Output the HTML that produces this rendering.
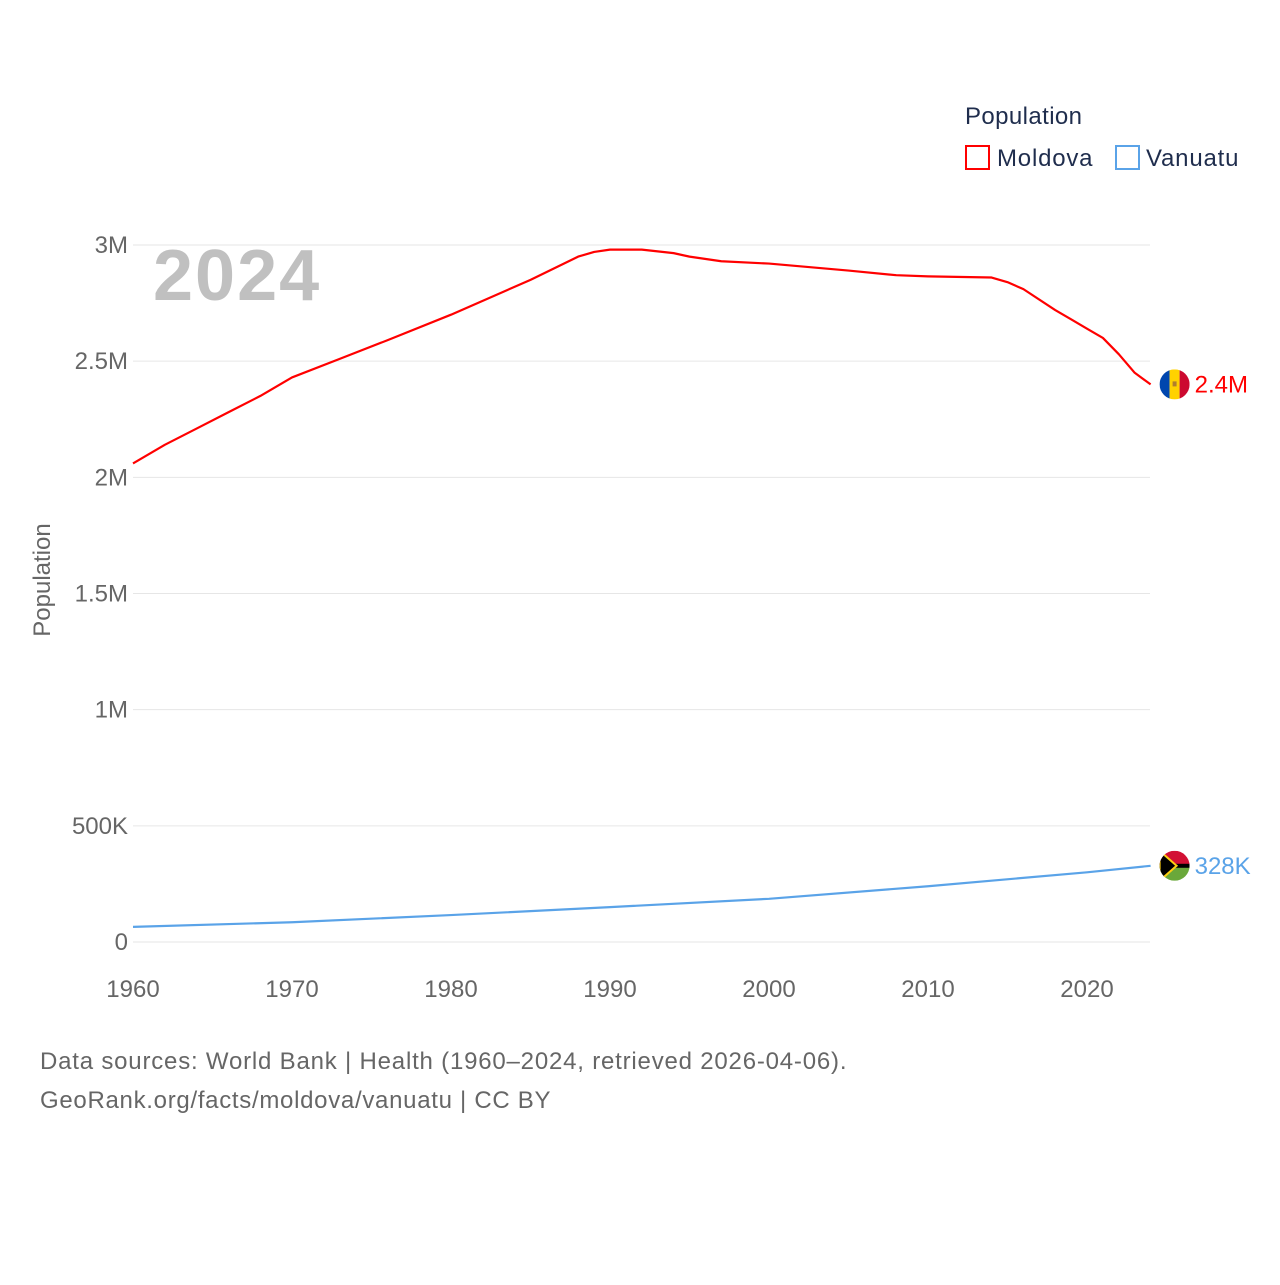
<!DOCTYPE html>
<html><head><meta charset="utf-8"><style>
body{margin:0;background:#fff;font-family:"Liberation Sans",sans-serif}
svg text{font-family:"Liberation Sans",sans-serif}
</style></head><body>
<svg width="1280" height="1280" id="c">
<defs><clipPath id="mc"><circle id="mcc" cx="0" cy="0" r="15"/></clipPath><clipPath id="vc"><circle id="vcc" cx="0" cy="0" r="15"/></clipPath></defs>
<text x="965" y="124" font-size="24" fill="#1f2d4d" letter-spacing="0.4">Population</text>
<g><rect x="966" y="146" width="23" height="23" fill="none" stroke="#ff0000" stroke-width="2"/><text x="997" y="166" font-size="24" fill="#1f2d4d" letter-spacing="0.8">Moldova</text></g>
<g><rect x="1116" y="146" width="23" height="23" fill="none" stroke="#5aa3e8" stroke-width="2"/><text x="1146" y="166" font-size="24" fill="#1f2d4d" letter-spacing="0.8">Vanuatu</text></g>
<text x="153" y="300" font-size="72" font-weight="bold" fill="#c0c0c0" letter-spacing="2">2024</text>
<text transform="translate(50,580) rotate(-90)" text-anchor="middle" font-size="24" fill="#666">Population</text>
<g id="grid"></g><g id="lines"></g>
<text x="40" y="1069" font-size="24" fill="#666" letter-spacing="0.8">Data sources: World Bank | Health (1960–2024, retrieved 2026-04-06).</text>
<text x="40" y="1108" font-size="24" fill="#666" letter-spacing="0.7">GeoRank.org/facts/moldova/vanuatu | CC BY</text>
</svg>
<script>
const yTicks=[0,500000,1000000,1500000,2000000,2500000,3000000];
const yTickLabels=["0","500K","1M","1.5M","2M","2.5M","3M"];
const xTicks=[1960,1970,1980,1990,2000,2010,2020];
const moldovaYears=[1960,1962,1964,1966,1968,1970,1973,1976,1980,1985,1988,1989,1990,1992,1994,1995,1997,2000,2005,2008,2010,2014,2015,2016,2018,2019,2020,2021,2022,2023,2024];
const moldovaValues=[2.06,2.14,2.21,2.28,2.35,2.43,2.51,2.59,2.70,2.85,2.95,2.97,2.98,2.98,2.965,2.95,2.93,2.92,2.89,2.87,2.865,2.86,2.84,2.81,2.72,2.68,2.64,2.60,2.53,2.45,2.40].map(v=>v*1e6);
const vanuatuYears=[1960,1970,1980,1990,2000,2010,2020,2024];
const vanuatuValues=[65000,85000,116000,150000,186000,240000,300000,328000];
const endLabels=["2.4M","328K"];
const X=y=>133+(y-1960)*(954/60), Y=v=>942-v*(697/3e6);
const NS="http://www.w3.org/2000/svg";
const g=document.getElementById('grid'), L=document.getElementById('lines');
function mk(t,a,p){const e=document.createElementNS(NS,t);for(const k in a)e.setAttribute(k,a[k]);p.appendChild(e);return e;}
yTicks.forEach((v,i)=>{
 const l=mk('line',{x1:133,x2:1150,y1:Y(v),y2:Y(v),stroke:'#e6e6e6','stroke-width':1},g);
 
 
 const t=mk('text',{x:128,y:Y(v)+8,'text-anchor':'end','font-size':24,fill:'#666'},g);t.textContent=yTickLabels[i];
 
 
});
xTicks.forEach(y=>{
 const t=mk('text',{x:X(y),y:997,'text-anchor':'middle','font-size':24,fill:'#666'},g);t.textContent=y;
 
 
});
function line(ys,vs,col,name,lab,flag){
 const p=mk('path',{d:ys.map((y,i)=>(i?'L':'M')+X(y)+','+Y(vs[i])).join(''),fill:'none',stroke:col,'stroke-width':2.2,'stroke-linejoin':'round'},L);
 
 
 const ex=X(ys[ys.length-1])+24, ey=Y(vs[vs.length-1]);
 const fg=mk('g',{},L);
 
 
 flag(fg,ex,ey);
 const t=mk('text',{x:ex+20,y:ey+8,'font-size':24,fill:col},L);t.textContent=lab;
 
 
}
line(moldovaYears,moldovaValues,'#ff0000','moldova',endLabels[0],(p,x,y)=>{
 const c=document.getElementById('mcc');c.setAttribute('cx',x);c.setAttribute('cy',y);
 const q=mk('g',{'clip-path':'url(#mc)'},p);
 mk('rect',{x:x-15,y:y-15,width:10,height:30,fill:'#0046ae'},q);
 mk('rect',{x:x-5,y:y-15,width:10,height:30,fill:'#ffd200'},q);
 mk('rect',{x:x+5,y:y-15,width:10,height:30,fill:'#cc092f'},q);
 mk('rect',{x:x-2,y:y-3,width:4,height:5,fill:'#b07e2d'},q);
});
line(vanuatuYears,vanuatuValues,'#5aa3e8','vanuatu',endLabels[1],(p,x,y)=>{
 const c=document.getElementById('vcc');c.setAttribute('cx',x);c.setAttribute('cy',y);
 const q=mk('g',{'clip-path':'url(#vc)'},p);
 mk('rect',{x:x-15,y:y-15,width:30,height:15,fill:'#d21034'},q);
 mk('rect',{x:x-15,y:y,width:30,height:15,fill:'#6aa83a'},q);
 mk('rect',{x:x-15,y:y-2,width:30,height:4,fill:'#000'},q);
 mk('path',{d:`M${x-15},${y-15}L${x+2},${y}L${x-15},${y+15}Z`,fill:'#000',stroke:'#fdce12','stroke-width':2},q);
});
</script>
</body></html>
